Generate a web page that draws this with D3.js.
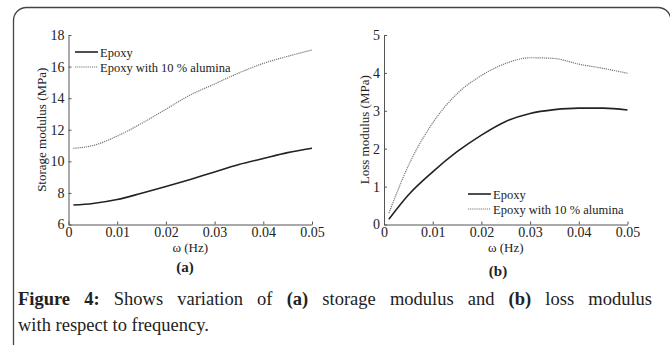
<!DOCTYPE html>
<html>
<head>
<meta charset="utf-8">
<script src="https://cdn.jsdelivr.net/npm/d3@7"></script>
<style>
  body { margin: 0; background: #fff; }
  svg { display: block; }
  text { font-family: "Liberation Serif", "Times New Roman", serif; fill: #222; }
</style>
</head>
<body>
<div id="chart"></div>
<script>
// frequency samples (Hz)
const freq = [0.001, 0.005, 0.01, 0.015, 0.02, 0.025, 0.03, 0.035, 0.04, 0.045, 0.05];
// (a) storage modulus, MPa
const storageEpoxy   = [7.23, 7.33, 7.58, 7.98, 8.40, 8.85, 9.33, 9.80, 10.18, 10.55, 10.83];
const storageAlumina = [10.82, 11.00, 11.60, 12.40, 13.30, 14.20, 14.90, 15.60, 16.20, 16.65, 17.05];
// (b) loss modulus, MPa
const lossEpoxy   = [0.14, 0.78, 1.39, 1.92, 2.36, 2.72, 2.93, 3.03, 3.07, 3.07, 3.02];
const lossAlumina = [0.30, 1.55, 2.68, 3.45, 3.93, 4.25, 4.40, 4.38, 4.23, 4.12, 3.99];

const seriesNames = ['Epoxy', 'Epoxy with 10 % alumina'];
const xTicks = [0, 0.01, 0.02, 0.03, 0.04, 0.05];
const storageTicks = [6, 8, 10, 12, 14, 16, 18];
const lossTicks = [0, 1, 2, 3, 4, 5];

const width = 670, height = 345;
const serif = '"Liberation Serif", "Times New Roman", serif';

const svg = d3.select('#chart')
  .append('svg')
  .attr('width', width)
  .attr('height', height);

// rounded frame
svg.append('rect')
  .attr('x', 13.5)
  .attr('y', 7.5)
  .attr('width', 657.5)
  .attr('height', 360)
  .attr('rx', 13)
  .attr('fill', 'none')
  .attr('stroke', '#444')
  .attr('stroke-width', 1.3);

const styles = [
  { stroke: '#222', width: 1.6, dash: null },
  { stroke: '#777', width: 1.2, dash: '1.2,0.9' }
];

function drawPanel(opts) {
  const x = d3.scaleLinear().domain([0, 0.05]).range([opts.left, opts.right]);
  const y = d3.scaleLinear().domain(opts.yDomain).range([opts.bottom, opts.top]);

  const g = svg.append('g');

  // x axis, ticks inward
  const xAxis = g.append('g')
    .attr('transform', `translate(0,${opts.bottom})`)
    .call(d3.axisBottom(x)
      .tickValues(xTicks)
      .tickSizeInner(-3)
      .tickSizeOuter(0)
      .tickPadding(3)
      .tickFormat(d => d === 0 ? '0' : d.toFixed(2)));

  // y axis, ticks inward
  const yAxis = g.append('g')
    .attr('transform', `translate(${opts.left},0)`)
    .call(d3.axisLeft(y)
      .tickValues(opts.yTicks)
      .tickSizeInner(-3)
      .tickSizeOuter(0)
      .tickPadding(4)
      .tickFormat(d3.format('d')));

  [xAxis, yAxis].forEach(a => {
    a.attr('font-family', serif).attr('font-size', 14);
    a.select('.domain').attr('stroke', '#555');
    a.selectAll('.tick line').attr('stroke', '#555');
    a.selectAll('text').attr('fill', '#222');
  });

  // curves
  const line = d3.line()
    .x((d, i) => x(freq[i]))
    .y(d => y(d))
    .curve(d3.curveMonotoneX);

  opts.series.forEach((s, i) => {
    g.append('path')
      .datum(s)
      .attr('d', line)
      .attr('fill', 'none')
      .attr('stroke', styles[i].stroke)
      .attr('stroke-width', styles[i].width)
      .attr('stroke-dasharray', styles[i].dash);
  });

  // legend
  seriesNames.forEach((name, i) => {
    const ly = opts.legendY + i * 15;
    g.append('line')
      .attr('x1', opts.legendX)
      .attr('x2', opts.legendX + 23)
      .attr('y1', ly)
      .attr('y2', ly)
      .attr('stroke', styles[i].stroke)
      .attr('stroke-width', styles[i].width)
      .attr('stroke-dasharray', styles[i].dash);
    g.append('text')
      .attr('x', opts.legendX + 25)
      .attr('y', ly + 4.5)
      .style('font-size', '12.5px')
      .text(name);
  });

  // axis titles
  g.append('text')
    .attr('x', (opts.left + opts.right) / 2)
    .attr('y', 252)
    .attr('text-anchor', 'middle')
    .style('font-size', '13px')
    .text('ω (Hz)');

  g.append('text')
    .attr('transform', `translate(${opts.yLabelX},${(opts.top + opts.bottom) / 2}) rotate(-90)`)
    .attr('text-anchor', 'middle')
    .style('font-size', '13px')
    .text(opts.yLabel);

  // panel letter
  g.append('text')
    .attr('x', opts.tagX)
    .attr('y', opts.tagY)
    .attr('text-anchor', 'middle')
    .style('font-size', '15px')
    .style('font-weight', 'bold')
    .text(opts.tag);
}

drawPanel({
  left: 68.5, right: 312, top: 35, bottom: 224.5,
  yDomain: [6, 18], yTicks: storageTicks,
  series: [storageEpoxy, storageAlumina],
  legendX: 75, legendY: 52,
  yLabel: 'Storage modulus (MPa)', yLabelX: 46,
  tag: '(a)', tagX: 185, tagY: 272
});

drawPanel({
  left: 384, right: 627.5, top: 35, bottom: 224.5,
  yDomain: [0, 5], yTicks: lossTicks,
  series: [lossEpoxy, lossAlumina],
  legendX: 468, legendY: 194,
  yLabel: 'Loss modulus (MPa)', yLabelX: 369,
  tag: '(b)', tagX: 498, tagY: 276
});

// caption, first line justified between left and right margins
const capLeft = 18, capRight = 652;
const line1 = [
  { t: 'Figure', b: true }, { t: '4:', b: true }, { t: 'Shows' }, { t: 'variation' },
  { t: 'of' }, { t: '(a)', b: true }, { t: 'storage' }, { t: 'modulus' }, { t: 'and' },
  { t: '(b)', b: true }, { t: 'loss' }, { t: 'modulus' }
];
const cap = svg.append('g').style('font-size', '18.5px');
const words = line1.map(w => cap.append('text')
  .attr('y', 305)
  .style('font-weight', w.b ? 'bold' : 'normal')
  .text(w.t));
const widths = words.map(w => w.node().getComputedTextLength());
const gap = (capRight - capLeft - d3.sum(widths)) / (words.length - 1);
let cx = capLeft;
words.forEach((w, i) => {
  w.attr('x', cx);
  cx += widths[i] + gap;
});

cap.append('text')
  .attr('x', capLeft)
  .attr('y', 331)
  .text('with respect to frequency.');
</script>
</body>
</html>
